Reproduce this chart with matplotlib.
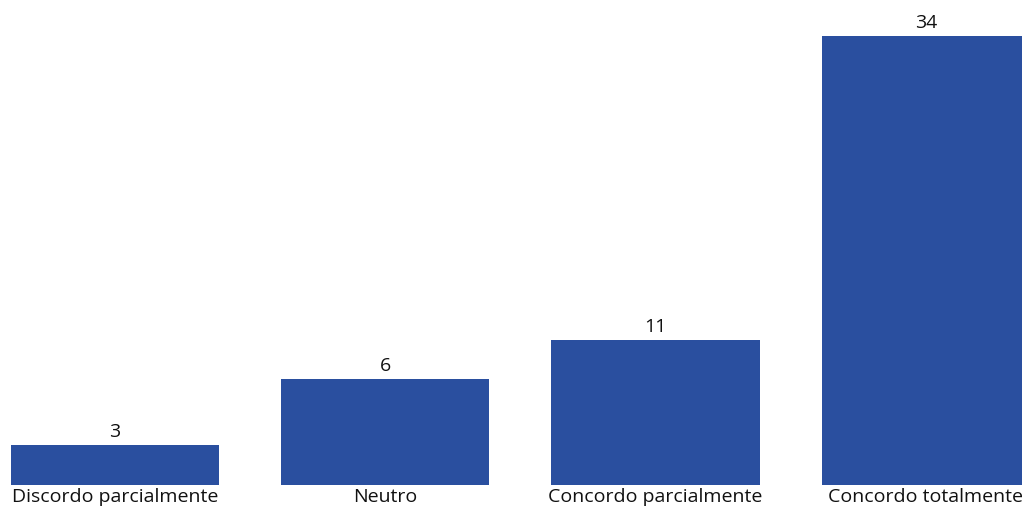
import matplotlib
matplotlib.use("Agg")
import matplotlib.pyplot as plt

categories = ["Discordo parcialmente", "Neutro", "Concordo parcialmente", "Concordo totalmente"]
bar_values = [3, 8, 11, 34]
value_labels = ["3", "6", "11", "34"]

plt.rcParams['font.family'] = ['Open Sans', 'DejaVu Sans']

fig = plt.figure(figsize=(10.22, 5.08), dpi=100)
ax = fig.add_axes([0, 23/508, 1, 485/508])
x = list(range(len(categories)))
bars = ax.bar(x, bar_values, width=0.77, color="#2A4F9F")
ax.set_xlim(-0.425, 3.356)
ax.set_ylim(0, 485/13.206)
for b, lab in zip(bars, value_labels):
    ax.text(b.get_x() + b.get_width()/2, b.get_height() + 0.3, lab,
            ha="center", va="bottom", fontsize=14, color="#111111")
ax.set_xticks(x)
ax.set_xticklabels(categories, fontsize=14, color="#111111")
ax.tick_params(axis="x", length=0, pad=2)
ax.set_yticks([])
for s in ax.spines.values():
    s.set_visible(False)
fig.savefig("out.png", dpi=100)
